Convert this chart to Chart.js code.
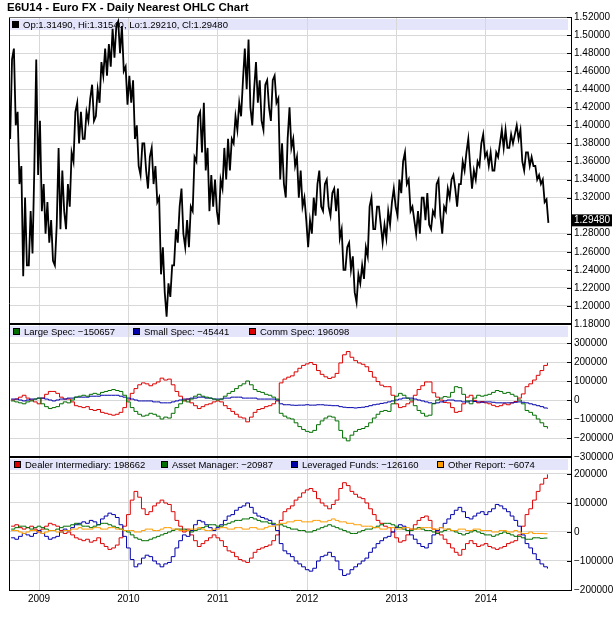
<!DOCTYPE html>
<html>
<head>
<meta charset="utf-8">
<title>E6U14 - Euro FX</title>
<script src="https://cdn.jsdelivr.net/npm/chart.js@4.4.1/dist/chart.umd.min.js"></script>
<style>
  html, body { margin: 0; padding: 0; background: #fff; }
</style>
</head>
<body>
<canvas id="euro" width="614" height="625"></canvas>
<script>
const TITLE = 'E6U14 - Euro FX - Daily Nearest OHLC Chart';
const YEARS = [2009, 2010, 2011, 2012, 2013, 2014];
const PRICE_TICKS = [1.20, 1.22, 1.24, 1.26, 1.28, 1.32, 1.34, 1.36, 1.38, 1.40, 1.42, 1.44, 1.46, 1.48, 1.50, 1.52, 1.18];
const COT_TICKS = [300, 200, 100, 0, -100, -200, -300];
const TFF_TICKS = [200, 100, 0, -100, -200];

// half-month periods, first one is 1-15 Sep 2008
const PRICE_HIGH = [
  1.473, 1.485, 1.415, 1.355, 1.320, 1.305, 1.355, 1.473,
  1.405, 1.335, 1.315, 1.295, 1.290, 1.375, 1.350, 1.335,
  1.370, 1.415, 1.425, 1.415, 1.415, 1.430, 1.445, 1.440,
  1.470, 1.485, 1.490, 1.507, 1.510, 1.515, 1.510, 1.465,
  1.455, 1.450, 1.400, 1.380, 1.380, 1.365, 1.375, 1.355,
  1.320, 1.265, 1.225, 1.245, 1.285, 1.310, 1.330, 1.295,
  1.310, 1.365, 1.410, 1.415, 1.425, 1.375, 1.345, 1.340,
  1.340, 1.375, 1.385, 1.385, 1.410, 1.425, 1.450, 1.485,
  1.495, 1.440, 1.470, 1.450, 1.445, 1.450, 1.450, 1.455,
  1.430, 1.380, 1.385, 1.420, 1.385, 1.365, 1.350, 1.320,
  1.295, 1.320, 1.335, 1.350, 1.335, 1.340, 1.325, 1.330,
  1.330, 1.285, 1.265, 1.270, 1.255, 1.235, 1.245, 1.265,
  1.310, 1.320, 1.310, 1.310, 1.290, 1.305, 1.315, 1.330,
  1.340, 1.360, 1.370, 1.340, 1.310, 1.305, 1.320, 1.320,
  1.325, 1.305, 1.335, 1.340, 1.310, 1.330, 1.340, 1.345,
  1.335, 1.360, 1.370, 1.385, 1.350, 1.360, 1.380, 1.390,
  1.370, 1.370, 1.370, 1.380, 1.395, 1.395, 1.390, 1.390,
  1.400, 1.395, 1.370, 1.370, 1.365, 1.355, 1.345, 1.340,
  1.318
];
const PRICE_LOW = [
  1.385, 1.400, 1.335, 1.233, 1.245, 1.245, 1.258, 1.345,
  1.305, 1.280, 1.270, 1.250, 1.245, 1.285, 1.305, 1.285,
  1.310, 1.360, 1.380, 1.385, 1.385, 1.405, 1.405, 1.410,
  1.425, 1.455, 1.455, 1.465, 1.475, 1.480, 1.460, 1.423,
  1.425, 1.385, 1.355, 1.345, 1.350, 1.330, 1.335, 1.315,
  1.235, 1.215, 1.188, 1.210, 1.245, 1.270, 1.280, 1.265,
  1.265, 1.305, 1.360, 1.370, 1.350, 1.305, 1.310, 1.305,
  1.290, 1.330, 1.340, 1.350, 1.380, 1.395, 1.410, 1.440,
  1.420, 1.400, 1.425, 1.405, 1.395, 1.420, 1.405, 1.425,
  1.340, 1.335, 1.320, 1.375, 1.355, 1.320, 1.310, 1.295,
  1.265, 1.280, 1.300, 1.310, 1.305, 1.310, 1.300, 1.305,
  1.275, 1.240, 1.240, 1.240, 1.215, 1.204, 1.225, 1.230,
  1.255, 1.285, 1.285, 1.290, 1.270, 1.275, 1.290, 1.310,
  1.300, 1.325, 1.335, 1.305, 1.295, 1.280, 1.280, 1.295,
  1.290, 1.285, 1.300, 1.300, 1.280, 1.305, 1.320, 1.330,
  1.310, 1.335, 1.350, 1.355, 1.330, 1.340, 1.355, 1.365,
  1.355, 1.350, 1.350, 1.365, 1.375, 1.375, 1.375, 1.380,
  1.385, 1.360, 1.350, 1.355, 1.355, 1.340, 1.335, 1.315,
  1.292
];
const OHLC_NAMES = ['Op', 'Hi', 'Lo', 'Cl'];
const OHLC_LAST = [1.31490, 1.31540, 1.29210, 1.29480];

// COT positions, thousands of contracts
const LARGE_SPEC = [
  -5, -10, -15, -20, -10, -5, 5, 10,
  -20, -35, -45, -40, -35, -20, -10, -15, 0, 15, 20, 25, 20, 30, 35, 30, 40, 45, 50, 55, 50, 45, 25, -10,
  -40, -60, -75, -85, -80, -70, -75, -85, -100, -90, -95, -70, -40, -20, 0, -10, 5, 20, 30, 20, 15, 10, 5, 0,
  5, 20, 35, 45, 60, 75, 85, 100, 80, 55, 45, 40, 30, 25, 15, 5, -70, -85, -95, -100, -120, -140, -155, -165,
  -170, -160, -130, -110, -95, -85, -90, -110, -160, -200, -215, -185, -165, -155, -150, -140, -120, -95, -75, -60, -55, -60, -20, 20,
  35, 25, 10, 0, -30, -55, -70, -85, -80, -20, 0, 10, 18, 15, 40, 70, 65, 30, -5, -20, 10, 25, 20, 25,
  30, 40, 50, 45, 35, 40, 30, 20, 0, -20, -55, -65, -80, -100, -120, -140,
  -150.657
];
const SMALL_SPEC = [
  5, 5, 0, -5, 0, 5, 5, 10,
  10, 5, 0, -5, 0, 5, 5, 10, 10, 15, 15, 15, 15, 20, 20, 20, 25, 25, 25, 25, 25, 20, 15, 10,
  5, 0, -5, -5, -5, -5, -10, -10, -15, -15, -15, -10, -5, 0, 5, 5, 10, 10, 15, 15, 10, 10, 5, 5,
  5, 10, 10, 15, 15, 15, 10, 10, 10, 10, 5, 5, 5, 5, 5, 0, -20, -25, -25, -27, -28, -27, -27, -25,
  -27, -27, -25, -25, -27, -28, -30, -30, -35, -38, -40, -40, -42, -40, -38, -35, -30, -25, -22, -18, -15, -10, -5, 0,
  5, 10, 10, 10, 5, 0, -5, -10, -15, -18, -15, -10, -5, 0, 0, -5, -5, -10, -10, -5, -8, -10, -12, -10,
  -10, -12, -15, -15, -15, -15, -15, -12, -10, -12, -15, -20, -25, -30, -35, -42,
  -45.441
];
const COMM_SPEC = [
  0, 5, 15, 25, 10, 0, -10, -20,
  10, 30, 45, 45, 35, 15, 5, 5, -10, -30, -35, -40, -35, -50, -55, -50, -65, -70, -75, -80, -75, -65, -40, 0,
  35, 60, 80, 90, 85, 75, 85, 95, 115, 105, 110, 80, 45, 20, -5, 5, -15, -30, -45, -35, -25, -20, -10, -5,
  -10, -30, -45, -60, -75, -90, -95, -115, -90, -65, -50, -45, -35, -30, -20, -5, 90, 110, 120, 127, 148, 167, 182, 190,
  197, 187, 155, 135, 122, 113, 120, 140, 195, 238, 255, 225, 207, 195, 188, 175, 150, 120, 97, 78, 70, 70, 25, -20,
  -40, -35, -20, -10, 25, 55, 75, 95, 95, 38, 15, 0, -13, -15, -40, -65, -60, -20, 15, 25, -2, -15, -8, -15,
  -20, -28, -35, -30, -20, -25, -15, -8, 10, 32, 70, 85, 105, 130, 155, 182,
  196.098
];
const COT_NAMES = ['Large Spec', 'Small Spec', 'Comm Spec'];
const COT_LAST = [-150657, -45441, 196098];

// traders in financial futures, thousands of contracts
const DEALER = [
  20, 25, 15, 10, 15, 20, 10, 0,
  10, 20, 30, 25, 20, 5, -5, 0, -10, -20, -25, -30, -25, -35, -30, -20, -40, -50, -60, -55, -45, -20, 20, 60,
  110, 140, 120, 80, 60, 70, 90, 100, 110, 100, 95, 70, 40, 20, 0, 10, -10, -30, -50, -40, -30, -20, -10, -20,
  -30, -50, -65, -70, -85, -95, -100, -105, -90, -70, -60, -55, -50, -45, -30, -10, 40, 70, 80, 90, 110, 120, 135, 145,
  150, 140, 115, 100, 90, 80, 95, 110, 150, 170, 160, 140, 130, 120, 115, 100, 80, 60, 40, 30, 20, 15, 0, -20,
  -35, -30, -10, 10, 25, 40, 50, 55, 40, 10, 0, -10, -25, -40, -55, -70, -80, -60, -40, -30, -40, -50, -45, -40,
  -50, -55, -60, -55, -50, -40, -35, -30, -10, 20, 60, 80, 110, 140, 165, 185,
  198.662
];
const ASSET_MGR = [
  10, 15, 20, 20, 15, 10, 15, 20,
  15, 10, 5, 5, 10, 15, 20, 20, 25, 30, 25, 20, 20, 15, 20, 25, 30, 30, 25, 20, 15, 10, 5, 0,
  -10, -20, -25, -30, -30, -25, -20, -15, -10, -5, 0, 5, 10, 10, 10, 5, 0, 5, 10, 15, 20, 25, 25, 20,
  20, 25, 30, 35, 40, 40, 45, 45, 50, 45, 40, 35, 35, 30, 30, 25, 25, 20, 15, 10, 10, 5, 5, 0,
  0, 5, 10, 15, 20, 25, 20, 15, 10, 5, 0, -5, -5, 0, 5, 10, 10, 15, 20, 25, 30, 30, 25, 20,
  15, 10, 5, 5, 10, 15, 10, 5, 5, 0, -5, 0, 5, 10, 5, 0, -5, -10, -5, 0, 5, 0, -5, -10,
  -10, -15, -10, -5, 0, -5, -10, -15, -15, -20, -25, -25, -20, -20, -22, -21,
  -20.987
];
const LEV_FUNDS = [
  -20, -25, -15, -5, -10, -15, -5, 5,
  -5, -15, -25, -20, -15, 0, 10, 5, 15, 25, 30, 35, 30, 40, 35, 25, 45, 55, 65, 60, 50, 25, -15, -55,
  -95, -120, -110, -90, -80, -85, -100, -110, -120, -110, -105, -85, -55, -30, -10, -15, 5, 25, 40, 35, 25, 15, 5, 15,
  25, 40, 55, 60, 75, 85, 90, 100, 85, 65, 55, 50, 45, 40, 25, 5, -40, -65, -75, -85, -100, -110, -120, -130,
  -135, -125, -100, -85, -80, -70, -85, -100, -130, -150, -145, -130, -120, -110, -100, -90, -70, -55, -40, -30, -20, -15, 0, 15,
  25, 20, 5, -10, -25, -40, -50, -55, -40, -10, 5, 15, 30, 45, 60, 75, 85, 70, 50, 45, 55, 65, 70, 60,
  70, 80, 95, 90, 80, 70, 55, 40, 20, -10, -40, -55, -75, -95, -110, -120,
  -126.160
];
const OTHER_REPORT = [
  5, 5, 0, -5, 0, 5, 5, 0,
  -5, 0, 5, 5, 0, 0, 5, 5, 10, 10, 15, 10, 10, 10, 15, 15, 10, 10, 15, 15, 10, 10, 5, 5,
  5, 0, 0, 5, 10, 10, 5, 5, 10, 15, 15, 10, 10, 5, 5, 5, 10, 10, 15, 10, 5, 5, 10, 10,
  15, 15, 10, 10, 15, 15, 10, 10, 15, 15, 10, 10, 15, 20, 20, 25, 30, 30, 35, 35, 40, 40, 35, 35,
  35, 40, 40, 35, 35, 40, 45, 40, 35, 35, 30, 30, 25, 25, 20, 20, 20, 15, 15, 10, 10, 15, 15, 10,
  10, 15, 15, 10, 10, 10, 15, 15, 15, 10, 10, 15, 10, 10, 5, 5, 10, 10, 5, 5, 10, 10, 5, 5,
  5, 0, 0, 5, 5, 0, 0, 5, 0, -5, -5, 0, -5, -5, -5, -6,
  -6.074
];
const TFF_NAMES = ['Dealer Intermediary', 'Asset Manager', 'Leveraged Funds', 'Other Report'];
const TFF_LAST = [198662, -20987, -126160, -6074];

const RED = '#dd0000', GREEN = '#006e00', BLUE = '#0000aa', ORANGE = '#ff9c00';
const COT_COLORS = [GREEN, BLUE, RED];
const TFF_COLORS = [RED, GREEN, BLUE, ORANGE];

const START = 2008 + 8 / 12;
const STEP = 1 / 24;
const xAt = i => START + (i + 0.5) * STEP;
const pts = arr => arr.map((v, i) => ({ x: xAt(i), y: v }));
const minus = n => (n < 0 ? '\u2212' + Math.abs(n) : String(n));

// each half month drawn as a low/high swing so the path looks like the daily bars
const pricePath = [];
PRICE_HIGH.forEach((hi, i) => {
  const lo = PRICE_LOW[i];
  const up = i + 1 < PRICE_HIGH.length && PRICE_HIGH[i + 1] + PRICE_LOW[i + 1] > hi + lo;
  const pair = up ? [lo, hi] : [hi, lo];
  pricePath.push({ x: xAt(i) - STEP / 4, y: pair[0] }, { x: xAt(i) + STEP / 4, y: pair[1] });
});

Chart.defaults.font.family = '"Liberation Sans", Arial, sans-serif';
Chart.defaults.font.size = 10;
Chart.defaults.color = '#000';

const stepLine = (data, color, axis) => ({
  data: pts(data), yAxisID: axis, borderColor: color,
  borderWidth: 1, pointRadius: 0, stepped: true, fill: false
});

const LEGEND_X = {
  yPrice: [3],
  yCot: [4, 124, 240],
  yTff: [5, 152, 282, 428]
};

const decor = {
  id: 'decor',
  beforeDraw(chart) {
    const { ctx, chartArea: a, scales } = chart;
    ctx.save();
    ctx.fillStyle = '#e4e4fa';
    [scales.yPrice, scales.yCot, scales.yTff].forEach(s => {
      ctx.fillRect(a.left + 1, s.top + 2, a.right - a.left - 4, 11);
    });
    ctx.restore();
  },
  beforeDatasetsDraw(chart) {
    const { ctx, chartArea: a, scales } = chart;
    const rows = {
      yPrice: [['#000', OHLC_NAMES.map((n, i) => n + ':' + OHLC_LAST[i].toFixed(5)).join(', ')]],
      yCot: COT_NAMES.map((n, i) => [COT_COLORS[i], n + ': ' + minus(COT_LAST[i])]),
      yTff: TFF_NAMES.map((n, i) => [TFF_COLORS[i], n + ': ' + minus(TFF_LAST[i])])
    };
    ctx.save();
    ctx.font = '9.5px "Liberation Sans", Arial, sans-serif';
    ctx.textBaseline = 'middle';
    Object.keys(rows).forEach(id => {
      const y = scales[id].top + 8;
      rows[id].forEach(([c, t], k) => {
        const x = a.left + LEGEND_X[id][k];
        ctx.fillStyle = '#000';
        ctx.fillRect(x, y - 4, 7, 7);
        ctx.fillStyle = c;
        ctx.fillRect(x + 1, y - 3, 5, 5);
        ctx.fillStyle = '#000';
        ctx.fillText(t, x + 11, y);
      });
    });
    ctx.restore();
  },
  afterDraw(chart) {
    const { ctx, chartArea: a, scales } = chart;
    ctx.save();
    ctx.fillStyle = '#000';
    ctx.textBaseline = 'middle';
    ctx.font = 'bold 11.5px "Liberation Sans", Arial, sans-serif';
    ctx.fillText(TITLE, 7, 8);

    ctx.lineWidth = 1;
    ctx.strokeStyle = '#000';
    ctx.beginPath();
    ctx.moveTo(a.left + 0.5, a.top);
    ctx.lineTo(a.left + 0.5, a.bottom);
    ctx.stroke();
    ctx.strokeStyle = '#666';
    ctx.beginPath();
    ctx.moveTo(a.left, a.top + 0.5);
    ctx.lineTo(a.right, a.top + 0.5);
    ctx.stroke();

    // small ticks on the inside of the axes
    ctx.strokeStyle = '#000';
    [scales.yPrice, scales.yCot, scales.yTff].forEach(s => {
      s.ticks.forEach(t => {
        const y = Math.round(s.getPixelForValue(t.value)) + 0.5;
        ctx.beginPath();
        ctx.moveTo(a.right - 4, y);
        ctx.lineTo(a.right, y);
        ctx.stroke();
      });
    });

    // panel separators
    ctx.lineWidth = 2;
    [scales.yCot.top, scales.yTff.top].forEach(y => {
      ctx.beginPath();
      ctx.moveTo(a.left, y);
      ctx.lineTo(a.right, y);
      ctx.stroke();
    });

    // last price badge
    const py = scales.yPrice.getPixelForValue(OHLC_LAST[3]);
    ctx.fillStyle = '#000';
    ctx.fillRect(a.right + 1, py - 6, 40, 12);
    ctx.fillStyle = '#fff';
    ctx.font = Chart.helpers.toFont(Chart.defaults.font).string;
    ctx.fillText(OHLC_LAST[3].toFixed(5), a.right + 3, py);
    ctx.restore();
  }
};

const rightAxis = (extra, tickValues, label) => Object.assign({
  type: 'linear',
  position: 'right',
  stack: 'panels',
  afterBuildTicks: s => { s.ticks = tickValues.map(v => ({ value: v })); },
  ticks: { padding: 3, autoSkip: false, callback: label },
  grid: { color: '#d8d8d8', drawTicks: false },
  border: { color: '#000' },
  afterFit: s => { s.width = 43; }
}, extra);

new Chart(document.getElementById('euro'), {
  type: 'line',
  data: {
    datasets: [
      {
        data: pricePath,
        yAxisID: 'yPrice',
        borderColor: '#000',
        borderWidth: 1.8,
        pointRadius: 0,
        tension: 0
      },
      stepLine(LARGE_SPEC, GREEN, 'yCot'),
      stepLine(SMALL_SPEC, BLUE, 'yCot'),
      stepLine(COMM_SPEC, RED, 'yCot'),
      stepLine(OTHER_REPORT, ORANGE, 'yTff'),
      stepLine(ASSET_MGR, GREEN, 'yTff'),
      stepLine(LEV_FUNDS, BLUE, 'yTff'),
      stepLine(DEALER, RED, 'yTff')
    ]
  },
  options: {
    responsive: false,
    animation: false,
    devicePixelRatio: 1,
    layout: { padding: { left: 9, top: 17, right: 0, bottom: 0 } },
    plugins: { legend: { display: false }, tooltip: { enabled: false } },
    scales: {
      x: {
        type: 'linear',
        min: 2008.664,
        max: 2014.951,
        afterBuildTicks: s => { s.ticks = YEARS.map(v => ({ value: v })); },
        ticks: { callback: v => String(v), padding: 3, maxRotation: 0, autoSkip: false },
        grid: { color: '#d8d8d8', drawTicks: false },
        border: { color: '#000' },
        afterFit: s => { s.height = 35; }
      },
      yPrice: rightAxis({ stackWeight: 307, min: 1.18, max: 1.52 }, PRICE_TICKS, v => v.toFixed(5)),
      yCot: rightAxis({ stackWeight: 133, min: -300, max: 400 }, COT_TICKS, v => minus(v * 1000)),
      yTff: rightAxis({ stackWeight: 133, min: -200, max: 258.6 }, TFF_TICKS, v => minus(v * 1000))
    }
  },
  plugins: [decor]
});
</script>
</body>
</html>
